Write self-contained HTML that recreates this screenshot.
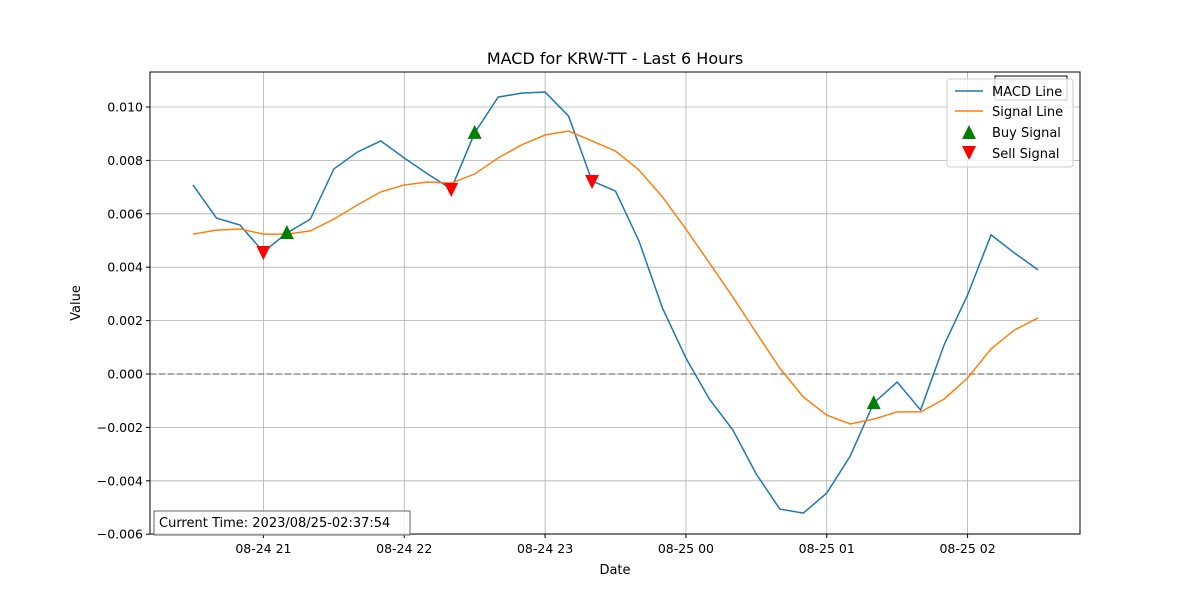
<!DOCTYPE html>
<html><head><meta charset="utf-8"><style>
body{margin:0;background:#fff;font-family:"Liberation Sans","DejaVu Sans",sans-serif;}
svg text{font-family:"DejaVu Sans","Liberation Sans",sans-serif;}
</style></head><body>
<svg id="chart" width="1200" height="600" xmlns="http://www.w3.org/2000/svg">
<rect width="1200" height="600" fill="#fff"/>
<g id="grid"></g>
<g id="plot"></g>
<g id="axes"></g>
<text x="615" y="64" font-size="16" text-anchor="middle">MACD for KRW-TT - Last 6 Hours</text>
<text x="615" y="574" font-size="13" text-anchor="middle">Date</text>
<text x="80" y="303" font-size="13" text-anchor="middle" transform="rotate(-90 80 303)">Value</text>
<rect x="995" y="76" width="72" height="24" fill="#fff" stroke="#000" stroke-width="1"/>
<g>
<rect x="947" y="79" width="126" height="88" rx="3" fill="#fff" fill-opacity="0.8" stroke="#ccc"/>
<g><line x1="955" y1="91" x2="983" y2="91" stroke="#1f77b4" stroke-width="1.5"/><text x="992" y="96" font-size="13">MACD Line</text></g>
<g><line x1="955" y1="111" x2="983" y2="111" stroke="#ff7f0e" stroke-width="1.5"/><text x="992" y="116" font-size="13">Signal Line</text></g>
<g><polygon points="969,125 962,139 976,139" fill="green"/><text x="992" y="137" font-size="13">Buy Signal</text></g>
<g><polygon points="962,146 976,146 969,160" fill="red"/><text x="992" y="158" font-size="13">Sell Signal</text></g>
</g>
<g>
<rect x="154" y="511" width="256" height="24" fill="#fff" fill-opacity="0.8" stroke="#666"/>
<text x="159" y="527" font-size="13">Current Time: 2023/08/25-02:37:54</text>
</g>
</svg>
<script>
const macd=[0.00708,0.00584,0.00558,0.00457,0.00528,0.00580,0.00768,0.00831,0.00873,0.00809,0.00749,0.00693,0.00903,0.01037,0.01052,0.01056,0.00966,0.00723,0.00685,0.00498,0.00247,0.00060,-0.00094,-0.00210,-0.00375,-0.00506,-0.00521,-0.00446,-0.00307,-0.00109,-0.00030,-0.00135,0.00109,0.00296,0.00521,0.00453,0.00390];
const signal=[0.00524,0.00539,0.00543,0.00524,0.00524,0.00536,0.00580,0.00633,0.00682,0.00708,0.00719,0.00715,0.00749,0.00809,0.00858,0.00895,0.00910,0.00873,0.00835,0.00764,0.00663,0.00543,0.00416,0.00288,0.00154,0.00022,-0.00086,-0.00154,-0.00187,-0.00169,-0.00142,-0.00142,-0.00094,-0.00015,0.00094,0.00165,0.00210];
const buyIdx=[4,12,29];
const sellIdx=[3,11,17];
const yTicks=[-0.006,-0.004,-0.002,0,0.002,0.004,0.006,0.008,0.010];
const xTickHours=[0.5,1.5,2.5,3.5,4.5,5.5];
const xTickLabels=["08-24 21","08-24 22","08-24 23","08-25 00","08-25 01","08-25 02"];
const L=150,R=1080,T=72,B=534;
function xs(i){return 193+i*(1038-193)/36;}        // i = 10-min step from 20:30
function xh(h){return 193+h*(1038-193)/6;}          // hours from 20:30
function ys(v){return 374-v*26700;}
const NS="http://www.w3.org/2000/svg";
function el(tag,attrs,parent){const e=document.createElementNS(NS,tag);for(const k in attrs)e.setAttribute(k,attrs[k]);parent.appendChild(e);return e;}
const grid=document.getElementById('grid'),plot=document.getElementById('plot'),axes=document.getElementById('axes');
yTicks.forEach(v=>{const y=ys(v);
 const g=el('line',{x1:L,x2:R,y1:y,y2:y,stroke:'#b0b0b0','stroke-width':0.8},grid);
 
 
 el('line',{x1:L-4,x2:L,y1:y,y2:y,stroke:'#000'},axes);
 const t=el('text',{x:L-7,y:y+4.5,'font-size':12.5,'text-anchor':'end'},axes);
 t.textContent=(v<0?'\u2212':'')+Math.abs(v).toFixed(3);
 
 
});
xTickHours.forEach((h,k)=>{const x=xh(h);
 const g=el('line',{x1:x,x2:x,y1:T,y2:B,stroke:'#b0b0b0','stroke-width':0.8},grid);
 
 
 el('line',{x1:x,x2:x,y1:B,y2:B+4,stroke:'#000'},axes);
 const t=el('text',{x:x,y:B+19,'font-size':12.5,'text-anchor':'middle'},axes);
 t.textContent=xTickLabels[k];
 
 
});
const zl=el('line',{x1:L,x2:R,y1:ys(0),y2:ys(0),stroke:'#808080','stroke-width':1.5,'stroke-dasharray':'6,3','stroke-opacity':0.8},plot);


function line(arr,color,name){const p=el('polyline',{points:arr.map((v,i)=>xs(i)+','+ys(v)).join(' '),fill:'none',stroke:color,'stroke-width':1.5},plot);
 
 }
line(macd,'#1f77b4','macd-line');
line(signal,'#ff7f0e','signal-line');
buyIdx.forEach(i=>{const x=xs(i),y=ys(macd[i]);
 const m=el('polygon',{points:`${x},${y-8} ${x-7},${y+6} ${x+7},${y+6}`,fill:'green'},plot);
 
 });
sellIdx.forEach(i=>{const x=xs(i),y=ys(macd[i]);
 const m=el('polygon',{points:`${x-7},${y-6} ${x+7},${y-6} ${x},${y+8}`,fill:'red'},plot);
 
 });
const frame=el('rect',{x:L,y:T,width:R-L,height:B-T,fill:'none',stroke:'#000','stroke-width':1},axes);


</script>
</body></html>
